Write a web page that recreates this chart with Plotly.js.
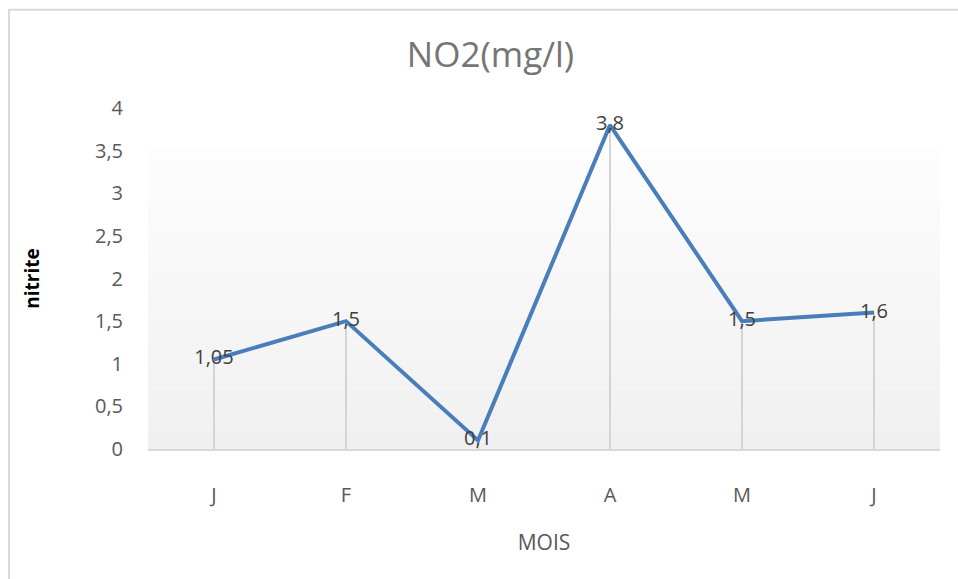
<!DOCTYPE html>
<html>
<head>
<meta charset="utf-8">
<script src="https://cdn.plot.ly/plotly-3.0.1.min.js"></script>
<style>
html,body{margin:0;padding:0;background:#fff;}
#chart{width:958px;height:579px;}
</style>
</head>
<body>
<div id="chart"></div>
<script>
const months = ["J", "F", "M", "A", "M", "J"];
const nitrite = [1.05, 1.5, 0.1, 3.8, 1.5, 1.6];
const valueLabels = ["1,05", "1,5", "0,1", "3,8", "1,5", "1,6"];
const yTickVals = [0, 0.5, 1, 1.5, 2, 2.5, 3, 3.5, 4];
const yTickText = ["0", "0,5", "1", "1,5", "2", "2,5", "3", "3,5", "4"];

const xIdx = months.map((m, i) => i);

// drop lines built from the data
const dropX = [], dropY = [];
xIdx.forEach((x, i) => { dropX.push(x, x, null); dropY.push(0, nitrite[i], null); });

const font = "'Open Sans', 'Liberation Sans', sans-serif";

// gradient background bands (paper coords)
const shapes = [];
const gTop = 0.886, nBands = 40;
for (let k = 0; k < nBands; k++) {
  const y0 = gTop * k / nBands, y1 = gTop * (k + 1) / nBands;
  const t = (k + 0.5) / nBands; // 0 bottom -> 1 top
  const c = Math.round(240 + (253 - 240) * t);
  shapes.push({type: "rect", xref: "paper", yref: "paper", x0: 0, x1: 1, y0: y0, y1: y1,
    fillcolor: `rgb(${c},${c},${c})`, line: {width: 0}, layer: "below"});
}
// outer chart border (left and top)
shapes.push({type: "line", xref: "paper", yref: "paper", x0: -0.1755, x1: -0.1755, y0: 1.29, y1: -0.5,
  line: {color: "#d9d9d9", width: 2}});
shapes.push({type: "line", xref: "paper", yref: "paper", x0: -0.1755, x1: 1.1, y0: 1.288, y1: 1.288,
  line: {color: "#d9d9d9", width: 2}});

const traces = [
  {x: dropX, y: dropY, type: "scatter", mode: "lines",
   line: {color: "#d4d4d4", width: 2}, hoverinfo: "skip", showlegend: false, cliponaxis: false},
  {x: xIdx, y: nitrite, type: "scatter", mode: "lines+text",
   text: valueLabels, textposition: "middle center",
   textfont: {family: font, size: 20, color: "#404040"},
   line: {color: "#4a7ebb", width: 4}, showlegend: false, cliponaxis: false}
];

const layout = {
  width: 958, height: 579,
  margin: {l: 148, r: 18, t: 108, b: 130},
  paper_bgcolor: "#ffffff", plot_bgcolor: "rgba(0,0,0,0)",
  font: {family: font, color: "#595959"},
  title: {text: "NO2(mg/l)", font: {family: font, size: 35, color: "#757575"},
          x: 0.512, xanchor: "center", y: 0.905, yanchor: "middle"},
  xaxis: {
    range: [-0.5, 5.5], tickvals: xIdx, ticktext: months,
    showgrid: false, zeroline: false, showline: true, linecolor: "#d9d9d9", linewidth: 2,
    ticks: "", tickfont: {family: font, size: 20, color: "#595959"},
    ticklabelstandoff: 27,
    title: {text: "MOIS", font: {family: font, size: 21, color: "#595959"}, standoff: 28}
  },
  yaxis: {
    range: [0, 4], tickvals: yTickVals, ticktext: yTickText,
    showgrid: false, zeroline: false, showline: false, ticks: "",
    tickfont: {family: font, size: 20, color: "#595959"},
    ticklabelstandoff: 24,
    title: {text: "<b>nitrite</b>", font: {family: font, size: 19, color: "#000000"}, standoff: 50}
  },
  shapes: shapes
};

Plotly.newPlot("chart", traces, layout, {displayModeBar: false, staticPlot: true});
</script>
</body>
</html>
